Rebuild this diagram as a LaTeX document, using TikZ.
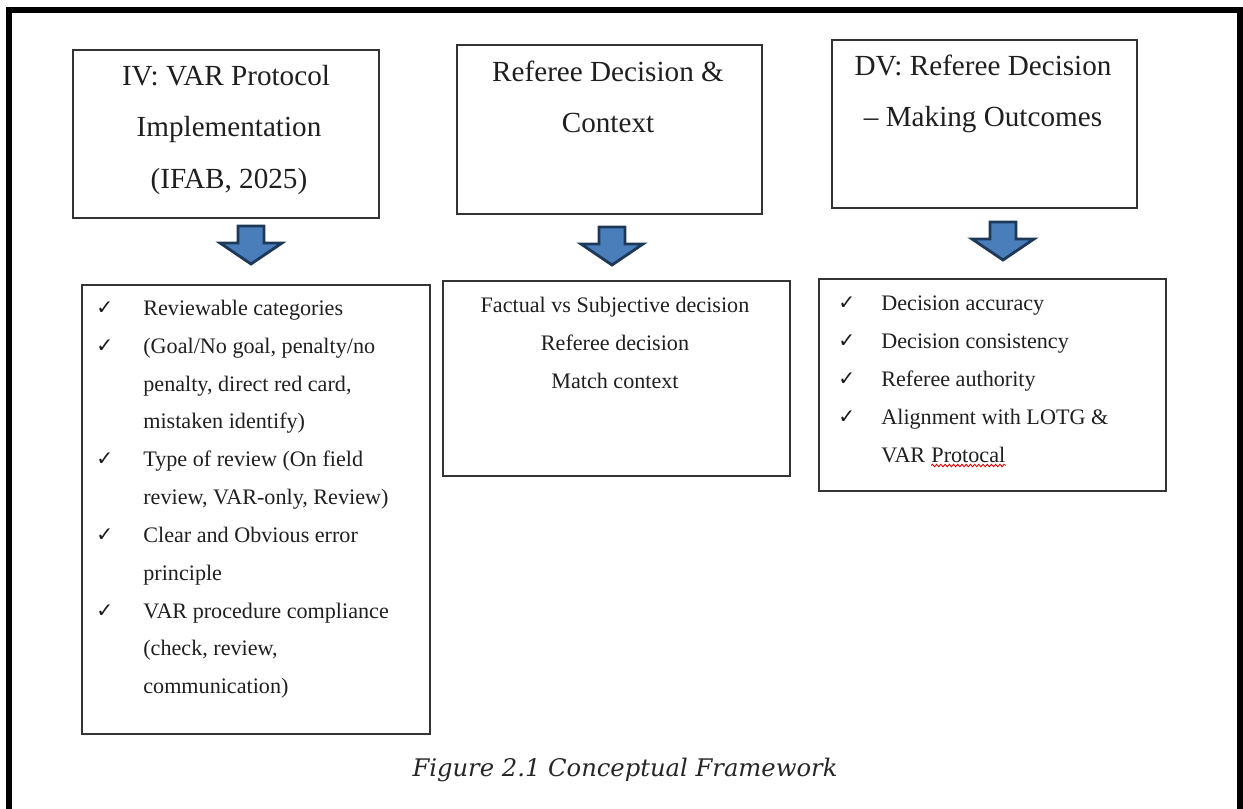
\documentclass[tikz,border=0pt]{standalone}
\usepackage{amssymb}
\usepackage{fontspec}
\setmainfont{Liberation Serif}
\newfontfamily\capfont{DejaVu Serif}
\newfontfamily\tickfont{DejaVu Sans}
\usepackage{tikz}
\usetikzlibrary{decorations.pathmorphing}
\definecolor{arrowfill}{HTML}{4A7EBB}
\definecolor{arrowline}{HTML}{1E3857}
\tikzset{
    panel/.style={draw=black!80, line width=1.1pt},
    headtext/.style={font=\fontsize{16.6}{19}\selectfont, text=black!88, anchor=base, inner sep=0pt},
    itemtext/.style={font=\fontsize{12.6}{15}\selectfont, text=black!88, anchor=base west, inner sep=0pt},
    midtext/.style={font=\fontsize{12.6}{15}\selectfont, text=black!88, anchor=base, inner sep=0pt},
    tickmark/.style={font=\tickfont\fontsize{11.5}{12}\selectfont, text=black!90, anchor=base west, inner sep=0pt},
    blockarrow/.style={fill=arrowfill, draw=arrowline, line width=1.6pt, line join=miter},
    spellwave/.style={draw=red!85!black, line width=0.5pt, decorate, decoration={snake, amplitude=0.7pt, segment length=2.4pt}}
}
\newcommand{\panel}[5]{
    \coordinate (#1) at (#2,#3);
    \coordinate (#1end) at (#4,#5);
    \draw[panel] (#1) rectangle (#1end);
}
\newcommand{\downblock}[3]{
    \coordinate (#1) at (#2,#3);
    \draw[blockarrow] (#1) ++(-13,0) -- ++(26,0) -- ++(0,17) -- ++(18,0) -- ++(-31,21) -- ++(-31,-21) -- ++(18,0) -- cycle;
}
\newcommand{\tickitem}[5]{
    \node[tickmark] (#1t) at (#2,{#4-1}) {✓};
    \node[itemtext] (#1) at (#3,#4) {#5};
}

\begin{document}
\begin{tikzpicture}[x=0.02cm,y=-0.02cm]
    \useasboundingbox (0,0) rectangle (1243,808);
    \clip (0,0) rectangle (1243,808);
    \draw[line width=3.4pt] (9,830) -- (9,10) -- (1240,10) -- (1240,830);

    \panel{iv}{73}{50}{379}{218}
    \panel{ctx}{457}{45}{762}{214}
    \panel{dv}{832}{40}{1137}{208}
    \node[headtext] (iv1) at (226,85) {IV: VAR Protocol};
    \node[headtext] (iv2) at (229,136) {Implementation};
    \node[headtext] (iv3) at (229,188) {(IFAB, 2025)};
    \node[headtext] (ctx1) at (608,81) {Referee Decision \&};
    \node[headtext] (ctx2) at (608,132) {Context};
    \node[headtext] (dv1) at (983,75) {DV: Referee Decision};
    \node[headtext] (dv2) at (983,126) {-- Making Outcomes};

    \downblock{a1}{251}{226}
    \downblock{a2}{612}{227}
    \downblock{a3}{1003}{222}

    \panel{ivl}{82}{285}{430}{734}
    \panel{ctxl}{443}{281}{790}{476}
    \panel{dvl}{819}{279}{1166}{491}

    \tickitem{ivl1}{96}{143}{315}{Reviewable categories}
    \tickitem{ivl2}{96}{143}{353}{(Goal/No goal, penalty/no}
    \node[itemtext] (ivl3) at (143,391) {penalty, direct red card,};
    \node[itemtext] (ivl4) at (143,428) {mistaken identify)};
    \tickitem{ivl5}{96}{143}{466}{Type of review (On field}
    \node[itemtext] (ivl6) at (143,504) {review, VAR-only, Review)};
    \tickitem{ivl7}{96}{143}{542}{Clear and Obvious error}
    \node[itemtext] (ivl8) at (143,580) {principle};
    \tickitem{ivl9}{96}{143}{618}{VAR procedure compliance}
    \node[itemtext] (ivl10) at (143,655) {(check, review,};
    \node[itemtext] (ivl11) at (143,693) {communication)};

    \node[midtext] (ctxl1) at (615,312) {Factual vs Subjective decision};
    \node[midtext] (ctxl2) at (615,350) {Referee decision};
    \node[midtext] (ctxl3) at (615,388) {Match context};

    \tickitem{dvl1}{838}{881}{310}{Decision accuracy}
    \tickitem{dvl2}{838}{881}{348}{Decision consistency}
    \tickitem{dvl3}{838}{881}{386}{Referee authority}
    \tickitem{dvl4}{838}{881}{424}{Alignment with LOTG \&}
    \node[itemtext] (dvl5) at (881,462) {VAR};
    \node[itemtext] (dvl5b) at ([xshift=3.15pt]dvl5.base east) {Protocal};
    \draw[spellwave] ([yshift=-2pt]dvl5b.base west) -- ([yshift=-2pt]dvl5b.base east);

    \node[font=\capfont\itshape\fontsize{13.8}{16}\selectfont, text=black!85, anchor=base, inner sep=0pt] (cap) at (625,776) {Figure 2.1 Conceptual Framework};
\end{tikzpicture}
\end{document}
